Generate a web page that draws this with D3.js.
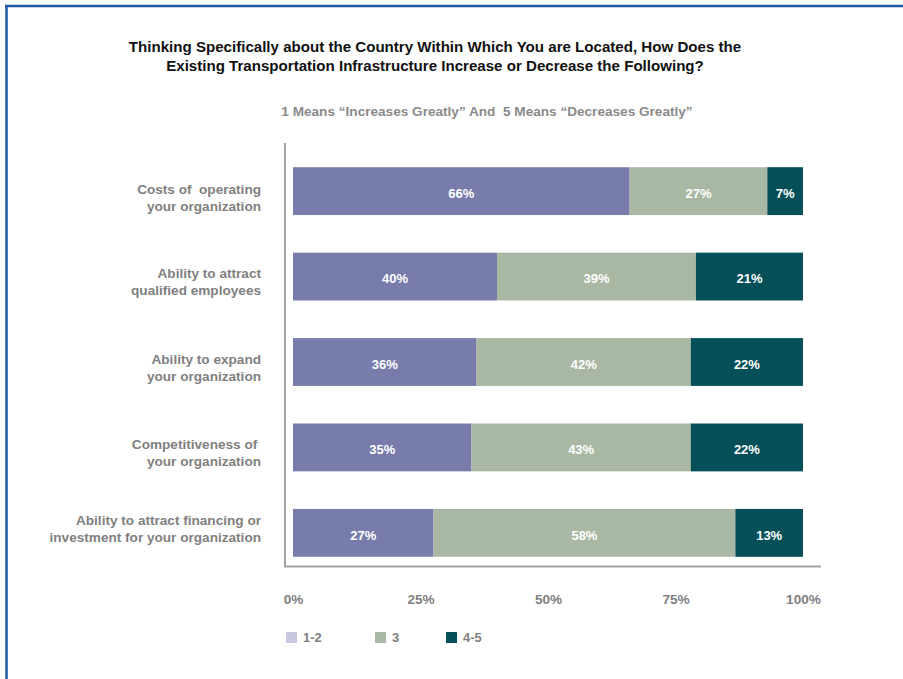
<!DOCTYPE html>
<html><head><meta charset="utf-8">
<script src="https://cdn.jsdelivr.net/npm/d3@7"></script>
<style>
html,body{margin:0;padding:0;background:#fff;}
svg{display:block;font-family:"Liberation Sans",Arial,Helvetica,sans-serif;}
text{white-space:pre;}
</style></head>
<body>
<svg id="chart" width="903" height="679"></svg>
<script>
const categories = [
  ["Costs of  operating", "your organization"],
  ["Ability to attract", "qualified employees"],
  ["Ability to expand", "your organization"],
  ["Competitiveness of ", "your organization"],
  ["Ability to attract financing or", "investment for your organization"]
];
const seriesNames = ["1-2", "3", "4-5"];
const values12 = [66, 40, 36, 35, 27];
const values3  = [27, 39, 42, 43, 58];
const values45 = [7, 21, 22, 22, 13];
const tickValues = [0, 0.25, 0.5, 0.75, 1];
const barColors = ["#787cab", "#a9b8a3", "#054f59"];
const legendColors = ["#c8c9e0", "#a9b8a3", "#054f59"];
const titleLines = ["Thinking Specifically about the Country Within Which You are Located, How Does the",
                    "Existing Transportation Infrastructure Increase or Decrease the Following?"];
const subtitle = "1 Means \u201cIncreases Greatly\u201d And  5 Means \u201cDecreases Greatly\u201d";

const svg = d3.select("#chart");
const gray = "#808080";

// frame
svg.append("line").attr("x1",5).attr("x2",903).attr("y1",6).attr("y2",6)
  .attr("stroke","#1d5aa6").attr("stroke-width",2.5);
svg.append("line").attr("x1",6.5).attr("x2",6.5).attr("y1",5).attr("y2",679)
  .attr("stroke","#1d5aa6").attr("stroke-width",2.5);

// title
svg.append("text").attr("x",435).attr("y",52).attr("text-anchor","middle")
  .attr("font-size",15.1).attr("font-weight","bold").attr("fill","#111")
  .selectAll("tspan").data(titleLines).join("tspan")
  .attr("x",435).attr("dy",(d,i)=>i===0?0:19).text(d=>d);

svg.append("text").attr("x",487).attr("y",116).attr("text-anchor","middle")
  .attr("font-size",13.6).attr("font-weight","bold").attr("fill","#8a8a8a").text(subtitle);

// data rows
const rows = categories.map((c,i)=>{
  const v=[values12[i],values3[i],values45[i]];
  const tot=d3.sum(v);
  return {key:i, label:c, vals:v, tot};
});

const x = d3.scaleLinear().domain([0,1]).range([293,803]);
const y = d3.scaleBand().domain(rows.map(r=>r.key)).range([145,579])
  .paddingInner(0.44).paddingOuter(0.26);

const stackData = rows.map(r=>({key:r.key, s0:r.vals[0]/r.tot, s1:r.vals[1]/r.tot, s2:r.vals[2]/r.tot}));
const stack = d3.stack().keys(["s0","s1","s2"]);
const layers = stack(stackData);

layers.forEach((layer,li)=>{
  const g = svg.append("g");
  g.selectAll("rect").data(layer).join("rect")
    .attr("x",d=>x(d[0])).attr("width",d=>x(d[1])-x(d[0]))
    .attr("y",d=>y(d.data.key)).attr("height",y.bandwidth())
    .attr("fill",barColors[li]);
  g.selectAll("text").data(layer).join("text")
    .attr("x",d=>(x(d[0])+x(d[1]))/2)
    .attr("y",d=>y(d.data.key)+y.bandwidth()/2+2)
    .attr("dy","0.36em").attr("text-anchor","middle")
    .attr("font-size",13).attr("font-weight","bold").attr("fill","#fff")
    .text((d,i)=>rows[i].vals[li]+"%");
});

// category labels
const labelShift = [6, 5.5, 6, 5.5, -4];
const lab = svg.append("g");
rows.forEach((r,ri)=>{
  const cy = y(r.key)+y.bandwidth()/2+labelShift[ri];
  lab.append("text").attr("text-anchor","end")
    .attr("font-size",13.6).attr("font-weight","bold").attr("fill",gray)
    .selectAll("tspan").data(r.label).join("tspan")
    .attr("x",261).attr("y",(d,i)=>cy-8.5+i*17).attr("dy","0.36em").text(d=>d);
});

// axis lines
svg.append("line").attr("x1",285).attr("x2",285).attr("y1",143).attr("y2",567)
  .attr("stroke","#a3a3a3").attr("stroke-width",2);
svg.append("line").attr("x1",284).attr("x2",821).attr("y1",566.5).attr("y2",566.5)
  .attr("stroke","#a3a3a3").attr("stroke-width",2);

// x ticks
const ax = svg.append("g").attr("transform","translate(0,594)")
  .call(d3.axisBottom(x).tickValues(tickValues).tickSize(0).tickPadding(0).tickFormat(d3.format(".0%")));
ax.select(".domain").remove();
ax.selectAll("text").attr("font-size",13.6).attr("font-weight","bold").attr("fill",gray)
  .attr("font-family","Liberation Sans, Arial, sans-serif");

// legend
const legX = [286, 375, 446];
const leg = svg.append("g");
seriesNames.forEach((n,i)=>{
  leg.append("rect").attr("x",legX[i]).attr("y",632).attr("width",11).attr("height",11).attr("fill",legendColors[i]);
  leg.append("text").attr("x",legX[i]+17).attr("y",637.5).attr("dy","0.36em")
    .attr("font-size",13).attr("font-weight","bold").attr("fill",gray).text(n);
});
</script>
</body></html>
